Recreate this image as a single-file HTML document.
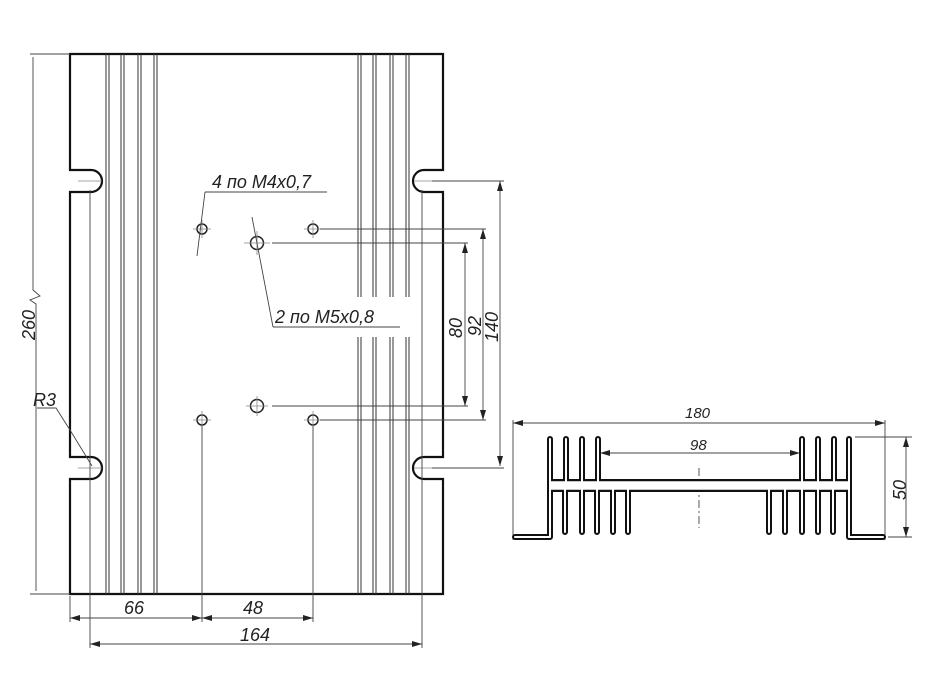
<!DOCTYPE html>
<html><head><meta charset="utf-8"><style>
html,body{margin:0;padding:0;background:#fff;}
svg{display:block;}
text{font-family:"Liberation Sans",sans-serif;font-style:italic;fill:#222;}
</style></head><body>
<svg width="933" height="700" viewBox="0 0 933 700" xmlns="http://www.w3.org/2000/svg">
<defs>
<marker id="a" viewBox="0 0 10 6" refX="10" refY="3" markerWidth="10" markerHeight="6" orient="auto-start-reverse" markerUnits="userSpaceOnUse"><path d="M0,0 L10,3 L0,6 z" fill="#222"/></marker>
</defs>
<path d="M70,54 H443 V170 H424 A11,11 0 0 0 424,192 H443 V457 H424 A11,11 0 0 0 424,479 H443 V594 H70 V479 H91 A11,11 0 0 0 91,457 H70 V192 H91 A11,11 0 0 0 91,170 H70 Z" fill="none" stroke="#111" stroke-width="2.2"/>
<g stroke="#333" stroke-width="1">
<path d="M106,54V594M109,54V594M121,54V594M124,54V594M138,54V594M141,54V594M154,54V594M157,54V594"/>
<path d="M358,54V297M361,54V297M373,54V297M376,54V297M390,54V297M393,54V297M406,54V297M409,54V297"/>
<path d="M358,337V594M361,337V594M373,337V594M376,337V594M390,337V594M393,337V594M406,337V594M409,337V594"/>
</g>
<g fill="none" stroke="#222" stroke-width="1.5">
<circle cx="202" cy="229" r="5"/><circle cx="313" cy="229" r="5"/>
<circle cx="202" cy="420" r="5"/><circle cx="313" cy="420" r="5"/>
<circle cx="257" cy="243" r="6.5"/><circle cx="257" cy="406" r="6.5"/>
</g>
<g stroke="#888" stroke-width="0.8">
<path d="M193,229H211M202,220V238M304,229H322M313,220V238M193,420H211M202,411V428M304,420H322M313,411V428M244,243H270M257,231V255M246,406H268M257,396V416"/>
<path d="M78,181H102M78,468H102M414,181H436M414,468H436"/>
</g>
<g stroke="#444" stroke-width="0.9" fill="none">
<path d="M30,54H70M30,594H70"/>
<path d="M33,57V290L40,296L30,300L36,304V591"/>
<path d="M90,190V648M422,190V648M202,426V622M313,426V622M70,596V622"/>
<path d="M70,618H202" marker-start="url(#a)" marker-end="url(#a)"/>
<path d="M202,618H313" marker-start="url(#a)" marker-end="url(#a)"/>
<path d="M90,644H422" marker-start="url(#a)" marker-end="url(#a)"/>
<path d="M320,229H486M272,243H468M272,406H468M320,420H486M432,181H504M432,468H504"/>
<path d="M465,243V406" marker-start="url(#a)" marker-end="url(#a)"/>
<path d="M483,229V420" marker-start="url(#a)" marker-end="url(#a)"/>
<path d="M500,181V466" marker-start="url(#a)" marker-end="url(#a)"/>
<path d="M205,192H327M205,192L197,256"/>
<path d="M273,327H400M273,327L252,217"/>
<path d="M37,408H56L70,430L92,466"/>
</g>
<g font-size="18">
<text x="212" y="188">4 по М4х0,7</text>
<text x="275" y="323">2 по М5х0,8</text>
<text x="33" y="406">R3</text>
<text x="124" y="614">66</text>
<text x="243" y="614">48</text>
<text x="240" y="641">164</text>
<text transform="translate(35,340) rotate(-90)">260</text>
<text transform="translate(462,338) rotate(-90)">80</text>
<text transform="translate(481,336) rotate(-90)">92</text>
<text transform="translate(498,342) rotate(-90)">140</text>
<text x="685" y="418" font-size="15">180</text>
<text x="690" y="450" font-size="15">98</text>
<text transform="translate(906,500) rotate(-90)">50</text>
</g>
<g stroke="#444" stroke-width="0.9" fill="none">
<path d="M513,420V540M885,420V540M855,437H912M888,537H912"/>
<path d="M513,423H885" marker-start="url(#a)" marker-end="url(#a)"/>
<path d="M600,453H800" marker-start="url(#a)" marker-end="url(#a)"/>
<path d="M906,437V537" marker-start="url(#a)" marker-end="url(#a)"/>
<path d="M699,468V528" stroke-dasharray="8,3,2,3"/>
</g>
<g fill="none" stroke-linejoin="round">
<g stroke="#111">
<path d="M550,485.5H849" stroke-width="13" stroke-linecap="butt"/>
<path d="M550,439V537H515M849,439V537H883M566,439V486M582,439V486M598,439V486M802,439V486M818,439V486M834,439V486M565,486V532M582,486V532M597,486V532M613,486V532M628,486V532M769,486V532M785,486V532M802,486V532M818,486V532M833,486V532" stroke-width="6" stroke-linecap="round"/>
</g>
<g stroke="#fff">
<path d="M550,485.5H849" stroke-width="8.5" stroke-linecap="butt"/>
<path d="M550,439V537H515M849,439V537H883M566,439V486M582,439V486M598,439V486M802,439V486M818,439V486M834,439V486M565,486V532M582,486V532M597,486V532M613,486V532M628,486V532M769,486V532M785,486V532M802,486V532M818,486V532M833,486V532" stroke-width="2" stroke-linecap="round"/>
</g>
</g>
</svg>
</body></html>
